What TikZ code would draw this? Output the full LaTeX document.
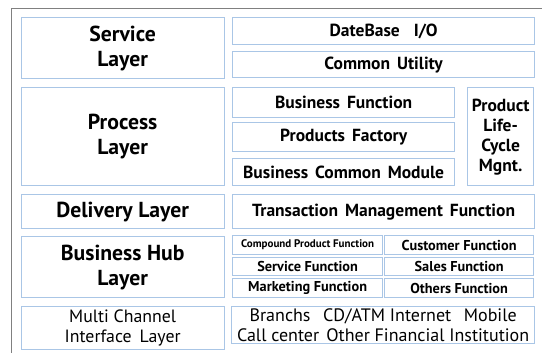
\documentclass[tikz,border=0pt]{standalone}
\usepackage{fontspec}
\setmainfont{PT Sans}
\begin{document}
\begin{tikzpicture}[x=1pt,y=-1pt,
  box/.style={draw=boxblue, line width=1.3pt, inner sep=0pt, align=center, anchor=north west, text=black},
  layerfont/.style={font=\fontsize{21.7}{25}\selectfont\bfseries},
  modfont/.style={font=\fontsize{17.5}{20}\selectfont\bfseries},
  hubfont/.style={font=\fontsize{14.3}{16}\selectfont\bfseries},
  chanfont/.style={font=\fontsize{17.8}{20.5}\selectfont}]
\definecolor{boxblue}{RGB}{170,198,230}
\definecolor{framegray}{RGB}{128,128,128}
\useasboundingbox (0,0) rectangle (542,353);
% outer frame
\coordinate (fbl) at (11.5,353);
\coordinate (ftl) at (11.5,8.5);
\coordinate (ftr) at (542,8.5);
\draw[framegray, line width=1.5pt] (fbl) -- (ftl) -- (ftr);
% left layer boxes
\node[box, layerfont, minimum width=203, minimum height=61] (service) at (20.5,17) {Service\\Layer};
\node[box, layerfont, minimum width=203, minimum height=98] (process) at (20.5,87) {Process\\Layer};
\node[box, layerfont, minimum width=203, minimum height=34] (delivery) at (20.5,194) {Delivery Layer};
\node[box, layerfont, minimum width=203, minimum height=61] (hub) at (20.5,236) {Business Hub\\Layer};
\node[box, chanfont, minimum width=203, minimum height=43] (multi) at (20.5,306) {Multi Channel\\Interface\hspace{0.45em}Layer};
% right column
\node[box, modfont, minimum width=302, minimum height=27] (db) at (232,17) {DateBase\hspace{0.8em}I/O};
\node[box, modfont, minimum width=302, minimum height=26] (util) at (232,51) {Common\hspace{0.4em}Utility};
\node[box, modfont, minimum width=222, minimum height=30] (bf) at (232,87) {Business\hspace{0.4em}Function};
\node[box, modfont, minimum width=222, minimum height=29] (pf) at (232,122) {Products\hspace{0.4em}Factory};
\node[box, modfont, minimum width=222, minimum height=27] (bcm) at (232,158) {Business\hspace{0.4em}Common\hspace{0.4em}Module};
\node[box, modfont, minimum width=66, minimum height=98] (plc) at (467,87) {Product\\Life-\\Cycle\\Mgnt.};
\node[box, modfont, minimum width=302, minimum height=34] (tmf) at (232,194) {Transaction\hspace{0.4em}Management\hspace{0.4em}Function};
% hub grid
\node[box, font=\fontsize{11}{12}\selectfont\bfseries, minimum width=150, minimum height=19] (cpf) at (232,235) {Compound Product Function};
\node[box, hubfont, minimum width=149, minimum height=19] (cf) at (384,235) {Customer Function};
\node[box, hubfont, minimum width=150, minimum height=18] (sf) at (232,257) {Service Function};
\node[box, hubfont, minimum width=149, minimum height=18] (saf) at (384,257) {Sales Function};
\node[box, hubfont, minimum width=150, minimum height=19] (mf) at (232,278) {Marketing Function};
\node[box, hubfont, minimum width=149, minimum height=19] (of) at (384,278) {Others Function};
% channels
\node[box, font=\fontsize{18}{20}\selectfont, minimum width=303, minimum height=37] (chan) at (231,306) {Branchs\hspace{0.7em}CD/ATM Internet\hspace{0.7em}Mobile\\Call center\hspace{0.4em}Other Financial Institution};
\end{tikzpicture}
\end{document}
